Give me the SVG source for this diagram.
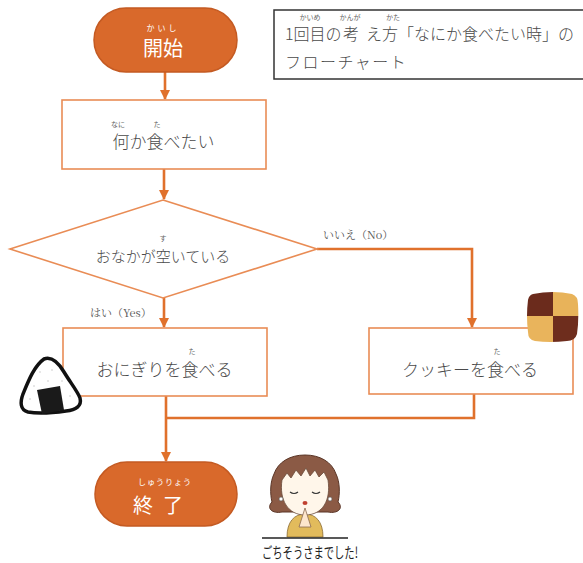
<svg xmlns="http://www.w3.org/2000/svg" width="583" height="563" viewBox="0 0 583 563">
  <defs>
    <marker id="arrow" viewBox="0 0 10 10" refX="9" refY="5" markerWidth="4" markerHeight="4" orient="auto" markerUnits="strokeWidth">
      <path d="M0,0 L10,5 L0,10 z" fill="#e0712c"/>
    </marker>
  </defs>
  <style>
    .term { fill: #d9692b; stroke: #c45a22; stroke-width: 1.5; }
    .box { fill: #ffffff; stroke: #e98c55; stroke-width: 1.6; }
    .conn { fill: none; stroke: #e0712c; stroke-width: 2.6; }
    .jp { font-family: "Noto Sans CJK JP", "Noto Sans", sans-serif; font-weight: 300; fill: #4a4a4a; }
    .ruby { font-family: "Noto Sans CJK JP", sans-serif; font-size: 7px; fill: #666; }
    .tw { font-family: "Noto Sans CJK JP", sans-serif; fill: #ffffff; }
    .rw { font-family: "Noto Sans CJK JP", sans-serif; font-size: 8px; fill: #ffffff; }
    .lbl { font-family: "Noto Serif CJK JP", "Noto Sans CJK JP", "Liberation Serif", serif; font-size: 11px; fill: #555; }
  </style>

  <!-- title box -->
  <g id="title">
    <rect x="274" y="10" width="330" height="69" fill="#ffffff" stroke="#333" stroke-width="1.5"/>
    <text class="ruby" x="310" y="20" text-anchor="middle">かいめ</text>
    <text class="ruby" x="350" y="20" text-anchor="middle">かんが</text>
    <text class="ruby" x="393" y="20" text-anchor="middle">かた</text>
    <text class="jp" font-size="16" y="40"><tspan x="285">1回目の</tspan><tspan x="343">考</tspan><tspan x="366">え方「なにか食べたい時」の</tspan></text>
    <text class="jp" font-size="16" x="285" y="68" letter-spacing="1.5">フローチャート</text>
  </g>

  <!-- connectors -->
  <g id="connectors">
    <path class="conn" d="M165,72 V99" marker-end="url(#arrow)"/>
    <path class="conn" d="M164,169 V199" marker-end="url(#arrow)"/>
    <path class="conn" d="M164,298 V327" marker-end="url(#arrow)"/>
    <path class="conn" d="M317,249 H472 V327" marker-end="url(#arrow)"/>
    <path class="conn" d="M474,394 V418 H166"/>
    <path class="conn" d="M166,396 V461" marker-end="url(#arrow)"/>
    <text class="lbl" x="323" y="239">いいえ（No）</text>
    <text class="lbl" x="90" y="317">はい（Yes）</text>
  </g>

  <!-- start -->
  <g id="start">
    <rect class="term" x="94" y="8" width="143" height="64" rx="32"/>
    <text class="rw" x="163" y="31" text-anchor="middle" letter-spacing="3">かいし</text>
    <text class="tw" x="163" y="56" font-size="20" text-anchor="middle">開始</text>
  </g>

  <!-- want to eat -->
  <g id="want">
    <rect class="box" x="62" y="100" width="204" height="69"/>
    <text class="ruby" x="118" y="127" text-anchor="middle">なに</text>
    <text class="ruby" x="157" y="127" text-anchor="middle">た</text>
    <text class="jp" x="163.5" y="148" font-size="17" text-anchor="middle">何か食べたい</text>
  </g>

  <!-- decision -->
  <g id="hungry">
    <polygon points="163,200 317,249 163,298 10,249" fill="#ffffff" stroke="#e98c55" stroke-width="1.6"/>
    <text class="ruby" x="163" y="241" text-anchor="middle">す</text>
    <text class="jp" x="163" y="262" font-size="15" text-anchor="middle">おなかが空いている</text>
  </g>

  <!-- rice ball -->
  <g id="onigiri-box">
    <rect class="box" x="63" y="328" width="204" height="68"/>
    <text class="ruby" x="192" y="354" text-anchor="middle">た</text>
    <text class="jp" x="164.5" y="376" font-size="17" text-anchor="middle">おにぎりを食べる</text>
  </g>

  <!-- cookie -->
  <g id="cookie-box">
    <rect class="box" x="369" y="328" width="204" height="66"/>
    <text class="ruby" x="497" y="354" text-anchor="middle">た</text>
    <text class="jp" x="470" y="376" font-size="17" text-anchor="middle">クッキーを食べる</text>
  </g>

  <!-- end -->
  <g id="end">
    <rect class="term" x="95" y="462" width="142" height="64" rx="32"/>
    <text class="rw" x="165" y="485" text-anchor="middle" letter-spacing="1">しゅうりょう</text>
    <text class="tw" x="163" y="513" font-size="20" text-anchor="middle" letter-spacing="10">終了</text>
  </g>

  <!-- rice ball illustration -->
  <g id="onigiri">
    <path d="M44,359 C52,356 58,362 64,372 C70,382 78,392 80,398 C82,406 76,410 66,411 C52,413 38,414 28,412 C20,410 20,402 23,394 C28,382 34,366 44,359 z" fill="#ffffff" stroke="#111" stroke-width="3.5" stroke-linejoin="round"/>
    <g fill="#c9c9c9">
      <circle cx="40" cy="372" r="0.8"/><circle cx="52" cy="370" r="0.8"/><circle cx="34" cy="386" r="0.8"/>
      <circle cx="48" cy="381" r="0.8"/><circle cx="62" cy="381" r="0.8"/><circle cx="30" cy="399" r="0.8"/>
      <circle cx="70" cy="396" r="0.8"/><circle cx="56" cy="391" r="0.8"/>
    </g>
    <path d="M37,390 L60,386 L64,410 L42,414 z" fill="#1a1a1a"/>
  </g>

  <!-- cookie illustration -->
  <g id="cookie">
    <clipPath id="ck">
      <path d="M533,294 Q553,290 572,294 Q578,296 578,304 Q579,320 577,334 Q575,341 567,341 Q550,343 535,341 Q528,340 528,332 Q526,316 528,300 Q529,295 533,294 z"/>
    </clipPath>
    <g clip-path="url(#ck)">
      <rect x="525" y="288" width="28" height="28" fill="#6b2b1c"/>
      <rect x="553" y="288" width="28" height="28" fill="#e8b35a"/>
      <rect x="525" y="316" width="28" height="28" fill="#e9b45c"/>
      <rect x="553" y="316" width="28" height="28" fill="#6e2d1d"/>
    </g>
  </g>

  <!-- girl illustration -->
  <g id="girl">
    <!-- hair: bob with flipped ends -->
    <path d="M282,512 C272,514 266,508 272,502 C270,494 270,482 274,474 C278,462 290,455 305,455 C320,455 332,462 336,474 C340,482 340,494 338,502 C344,508 338,514 328,512 Z" fill="#8b5a45" stroke="#5a3526" stroke-width="1"/>
    <!-- body -->
    <path d="M287,537 C287,522 294,514 305,514 C316,514 323,522 323,537 Z" fill="#e2bb5c" stroke="#8a6a30" stroke-width="0.8"/>
    <!-- face with bangs -->
    <path d="M282,480 L287,473 L291,478 L296,470 L301,476 L306,468 L310,476 L315,470 L319,477 L324,472 L328,480 C331,500 323,515 305,515 C288,515 279,500 282,480 Z" fill="#fff6ea" stroke="#6a4a3a" stroke-width="0.8"/>
    <!-- eyes -->
    <path d="M290,492 Q294,495 298,492 M312,492 Q316,495 320,492" fill="none" stroke="#333" stroke-width="1.2"/>
    <!-- mouth -->
    <ellipse cx="305" cy="503" rx="2.5" ry="2" fill="#c04030"/>
    <!-- earrings -->
    <circle cx="281" cy="499" r="2" fill="#fff" stroke="#555" stroke-width="0.6"/>
    <circle cx="330" cy="499" r="2" fill="#fff" stroke="#555" stroke-width="0.6"/>
    <!-- hands -->
    <path d="M299,527 L305,508 L311,527 Z" fill="#fde6cc" stroke="#8a6a50" stroke-width="0.8"/>
    <line x1="262" y1="538" x2="348" y2="538" stroke="#222" stroke-width="1.6"/>
    <text x="310" y="558" font-family="Noto Sans CJK JP, sans-serif" font-size="15" fill="#222" text-anchor="middle" textLength="96" lengthAdjust="spacingAndGlyphs">ごちそうさまでした!</text>
  </g>
</svg>
